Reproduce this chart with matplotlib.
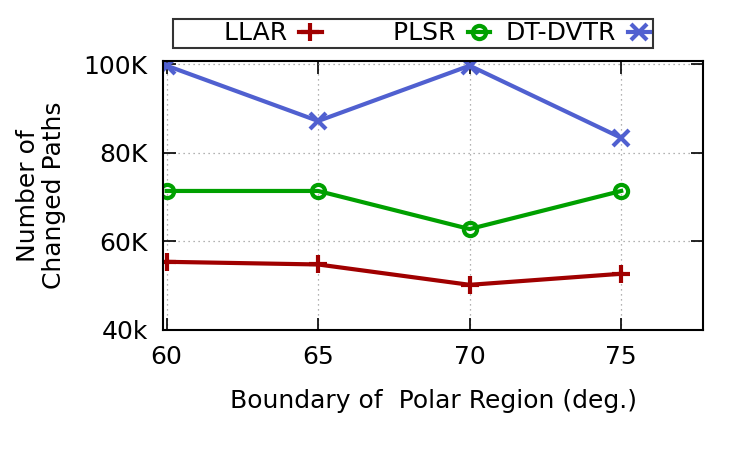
import matplotlib.pyplot as plt

# Data
boundary = [60, 65, 70, 75]
llar = [55400, 54800, 50200, 52700]
plsr = [71400, 71400, 62800, 71400]
dt_dvtr = [99700, 87200, 99700, 83400]

ytick_vals = [40000, 60000, 80000, 100000]
ytick_labels = ["40k", "60K", "80K", "100K"]

fig = plt.figure(figsize=(7.5, 4.5), dpi=100)
ax = fig.add_axes([163 / 750, 1 - 330 / 450, (703 - 163) / 750, (330 - 61) / 450])

ax.plot(boundary, llar, color="#a00000", lw=3, marker="+", ms=13, mew=3, label="      LLAR")
ax.plot(boundary, plsr, color="#00a000", lw=3, marker="o", ms=9.5, mew=3,
        mfc="none", label="       PLSR")
ax.plot(boundary, dt_dvtr, color="#5060d0", lw=3, marker="x", ms=11, mew=3, label="DT-DVTR")

ax.set_xlim(59.88, 77.7)
ax.set_ylim(40000, 100750)
ax.set_xticks(boundary)
ax.set_yticks(ytick_vals)
ax.set_yticklabels(ytick_labels)
ax.tick_params(direction="in", length=9, width=1.2, top=True, right=True,
               labelsize=18, pad=11)
ax.grid(color="#999999", linestyle=(0, (1, 3)), linewidth=0.9)
for s in ax.spines.values():
    s.set_linewidth(1.5)

ax.set_xlabel("Boundary of  Polar Region (deg.)", fontsize=18, labelpad=14)
ax.set_ylabel("Number of\nChanged Paths", fontsize=18, labelpad=13, linespacing=1.1)

leg = fig.legend(loc="center", bbox_to_anchor=(413 / 750, 1 - 33.5 / 450), ncol=3,
                 markerfirst=False, fontsize=18, frameon=True, fancybox=False,
                 handlelength=0.9, columnspacing=0.6, borderpad=0.1,
                 handletextpad=0.5)
leg.get_frame().set_edgecolor("black")
leg.get_frame().set_linewidth(1.5)

fig.savefig("out.png", dpi=100)
